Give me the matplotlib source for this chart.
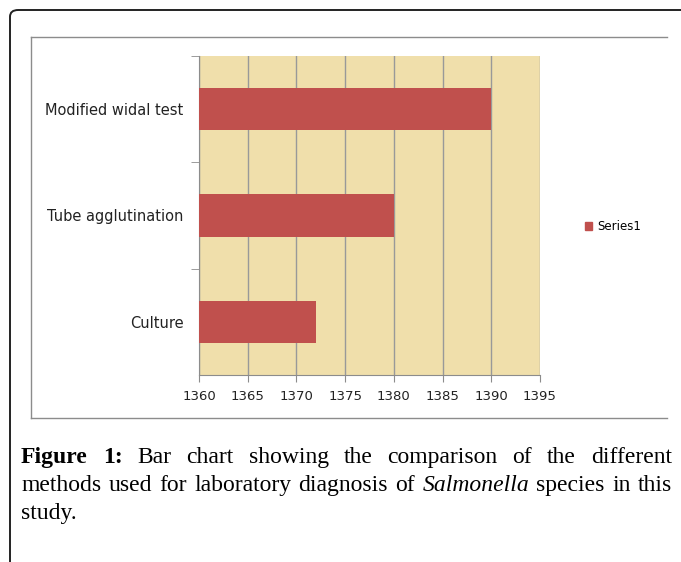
import matplotlib.pyplot as plt
from matplotlib.patches import FancyBboxPatch, Patch
from matplotlib.lines import Line2D

# datos del grafico
methods = ['Culture', 'Tube agglutination', 'Modified widal test']
counts = [1372, 1380, 1390]
x_ticks = [1360, 1365, 1370, 1375, 1380, 1385, 1390, 1395]
series_name = 'Series1'

caption_lines = [
    [('Figure', 'bold'), ('1:', 'bold'), ('Bar', 'n'), ('chart', 'n'), ('showing', 'n'), ('the', 'n'),
     ('comparison', 'n'), ('of', 'n'), ('the', 'n'), ('different', 'n')],
    [('methods', 'n'), ('used', 'n'), ('for', 'n'), ('laboratory', 'n'), ('diagnosis', 'n'), ('of', 'n'),
     ('Salmonella', 'it'), ('species', 'n'), ('in', 'n'), ('this', 'n')],
    [('study.', 'n')],
]

W, H = 681, 562
fig = plt.figure(figsize=(W / 100, H / 100), dpi=100)
fig.patch.set_facecolor('white')

# marco exterior redondeado (cortado a la derecha y abajo)
frame = FancyBboxPatch((10 / W, -0.2), 1.2, (H - 10) / H + 0.2,
                       boxstyle='round,pad=0,rounding_size=0.012',
                       transform=fig.transFigure, fill=False, edgecolor='#222222',
                       linewidth=1.4, clip_on=False)
fig.add_artist(frame)

# marco gris del grafico
gx0, gx1, gy0, gy1 = 31 / W, 667 / W, 1 - 418 / H, 1 - 37 / H
for xs, ys in [([gx0, gx1], [gy1, gy1]), ([gx0, gx0], [gy0, gy1]), ([gx0, gx1], [gy0, gy0])]:
    fig.add_artist(Line2D(xs, ys, transform=fig.transFigure, color='#8c8c8c', linewidth=1.0))

ax = fig.add_axes([199 / W, 1 - 375 / H, 341 / W, 319 / H])
ax.set_facecolor('#f0dfab')
ax.barh(range(len(methods)), counts, left=0, height=0.4, color='#c0504d', zorder=3)
ax.set_xlim(1360, 1395)
ax.set_ylim(-0.5, len(methods) - 0.5)
ax.set_xticks(x_ticks)
ax.set_xticklabels([str(t) for t in x_ticks], fontsize=9.5, color='#222222')
ax.set_yticks(range(len(methods)))
ax.set_yticklabels(methods, fontsize=10.5, color='#222222')
ax.tick_params(axis='y', length=0, pad=11)
ax.set_yticks([0.5, 1.5, 2.5], minor=True)
ax.tick_params(axis='y', which='minor', length=6, color='#8c8c8c', direction='out')
ax.tick_params(axis='x', length=5, color='#8c8c8c', pad=6)
ax.grid(axis='x', color='#999999', linewidth=1.0, zorder=1)
for s in ['top', 'right']:
    ax.spines[s].set_visible(False)
for s in ['left', 'bottom']:
    ax.spines[s].set_color('#8c8c8c')

fig.legend(handles=[Patch(color='#c0504d', label=series_name)], loc='center left',
           bbox_to_anchor=(574 / W, 1 - 227 / H), frameon=False, fontsize=8.5,
           handlelength=0.65, handleheight=0.65, handletextpad=0.4)

# pie de figura justificado
fsize = 17
renderer = fig.canvas.get_renderer()
left_px, right_px = 21, 672
line_y = [457, 485, 513]


def make_word(text, style):
    kw = dict(fontsize=fsize, family='Liberation Serif', va='baseline', ha='left',
              transform=None)
    if style == 'bold':
        kw['fontweight'] = 'bold'
    if style == 'it':
        kw['fontstyle'] = 'italic'
    return fig.text(0, 0, text, **kw)


for i, words in enumerate(caption_lines):
    arts = [make_word(t, s) for t, s in words]
    widths = [a.get_window_extent(renderer).width for a in arts]
    if i < len(caption_lines) - 1 and len(arts) > 1:
        gap = (right_px - left_px - sum(widths)) / (len(arts) - 1)
    else:
        gap = fsize * 0.25
    x = left_px
    yb = (H - line_y[i] - 6) / H
    for a, w in zip(arts, widths):
        a.set_transform(fig.transFigure)
        a.set_position((x / W, yb))
        x += w + gap

fig.savefig('out.png', dpi=100)
